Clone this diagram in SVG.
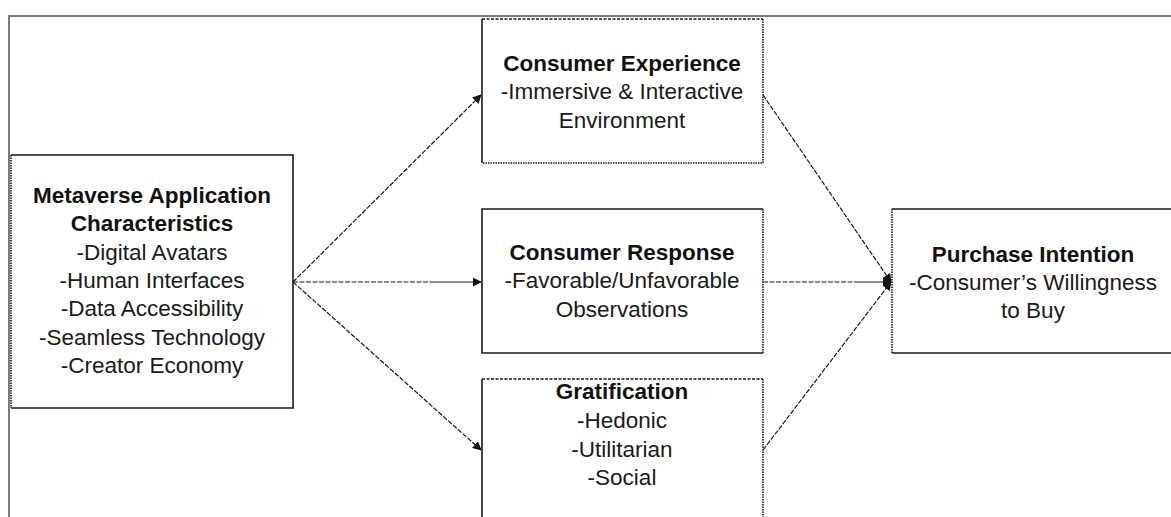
<svg xmlns="http://www.w3.org/2000/svg" width="1171" height="517" viewBox="0 0 1171 517">
  <style>
    .frame { fill: none; stroke: #7a7a7a; stroke-width: 2; }
    .box { fill: #ffffff; stroke: none; }
    .solid { fill: none; stroke: #1a1a1a; stroke-width: 1.6; }
    .dotted { fill: none; stroke: #1a1a1a; stroke-width: 1.6; stroke-dasharray: 1.5 1; }
    .dashed { fill: none; stroke: #1a1a1a; stroke-width: 1.5; stroke-dasharray: 3 1.5; }
    .link { fill: none; stroke: #1a1a1a; stroke-width: 1.2; stroke-dasharray: 5 1.5; }
    .link-solid { fill: none; stroke: #1a1a1a; stroke-width: 1.2; }
    text { font-family: "Liberation Sans", Arial, sans-serif; font-size: 22.5px; fill: #1a1a1a; text-anchor: middle; }
    .title { font-weight: bold; fill: #111111; }
  </style>
  <defs>
    <marker id="arrow" viewBox="0 0 10 10" refX="9" refY="5" markerWidth="9" markerHeight="9" markerUnits="userSpaceOnUse" orient="auto">
      <path d="M0,0 L10,5 L0,10 z" fill="#111111"/>
    </marker>
  </defs>

  <rect width="1171" height="517" fill="#ffffff"/>

  <!-- outer frame, open on the right and bottom -->
  <path class="frame" d="M9,517 V16 H1171"/>

  <!-- connectors -->
  <g id="connectors">
    <line class="link" x1="293" y1="282" x2="481" y2="95" marker-end="url(#arrow)"/>
    <line class="link" x1="293" y1="282" x2="430" y2="282"/>
    <line class="link-solid" x1="430" y1="282" x2="481" y2="282" marker-end="url(#arrow)"/>
    <line class="link" x1="293" y1="282" x2="481" y2="450" marker-end="url(#arrow)"/>
    <line class="link" x1="763" y1="95" x2="891" y2="282" marker-end="url(#arrow)"/>
    <line class="link" x1="763" y1="282" x2="855" y2="282"/>
    <line class="link-solid" x1="855" y1="282" x2="891" y2="282" marker-end="url(#arrow)"/>
    <line class="link" x1="763" y1="450" x2="891" y2="282" marker-end="url(#arrow)"/>
  </g>

  <!-- Metaverse Application Characteristics -->
  <g id="node-metaverse">
    <rect class="box" x="11" y="155" width="282" height="253"/>
    <path class="solid" d="M11,155 H293 V408 H11"/>
    <path class="dotted" d="M11,155 V408"/>
    <text class="title" x="152" y="203">Metaverse Application</text>
    <text class="title" x="152" y="231">Characteristics</text>
    <text x="152" y="260">-Digital Avatars</text>
    <text x="152" y="288">-Human Interfaces</text>
    <text x="152" y="316">-Data Accessibility</text>
    <text x="152" y="345">-Seamless Technology</text>
    <text x="152" y="373">-Creator Economy</text>
  </g>

  <!-- Consumer Experience -->
  <g id="node-experience">
    <rect class="box" x="482" y="19" width="281" height="144"/>
    <path class="solid" d="M482,19 V163"/>
    <path class="dashed" d="M482,19 H763"/>
    <path class="dotted" d="M763,19 V163 H482"/>
    <text class="title" x="622" y="71">Consumer Experience</text>
    <text x="622" y="99">-Immersive &amp; Interactive</text>
    <text x="622" y="128">Environment</text>
  </g>

  <!-- Consumer Response -->
  <g id="node-response">
    <rect class="box" x="482" y="209" width="281" height="144"/>
    <path class="solid" d="M763,209 H482 V353 H763"/>
    <path class="dotted" d="M763,209 V353"/>
    <text class="title" x="622" y="260">Consumer Response</text>
    <text x="622" y="288">-Favorable/Unfavorable</text>
    <text x="622" y="317">Observations</text>
  </g>

  <!-- Gratification (runs past the lower edge) -->
  <g id="node-gratification">
    <rect class="box" x="482" y="379" width="281" height="140"/>
    <path class="solid" d="M482,379 V519"/>
    <path class="dashed" d="M482,379 H763"/>
    <path class="dotted" d="M763,379 V519"/>
    <text class="title" x="622" y="399">Gratification</text>
    <text x="622" y="428">-Hedonic</text>
    <text x="622" y="457">-Utilitarian</text>
    <text x="622" y="485">-Social</text>
  </g>

  <!-- Purchase Intention (runs past the right edge) -->
  <g id="node-purchase">
    <rect class="box" x="892" y="209" width="281" height="144"/>
    <path class="solid" d="M1173,209 H892 M892,353 H1173"/>
    <path class="dotted" d="M892,209 V353"/>
    <text class="title" x="1033" y="262">Purchase Intention</text>
    <text x="1033" y="290">-Consumer’s Willingness</text>
    <text x="1033" y="318">to Buy</text>
  </g>
</svg>
